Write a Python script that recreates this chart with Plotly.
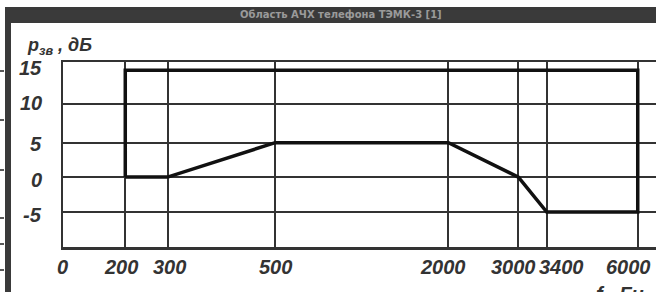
import numpy as np
import plotly.graph_objects as go

# ---------------- data ----------------
FREQ_TICKS = [0, 200, 300, 500, 2000, 3000, 3400, 6000]
FREQ_LABELS = ["0", "200", "300", "500", "2000", "3000", "3400", "6000"]
LEVEL_TICKS = [-10, -5, 0, 5, 10, 15]
LEVEL_LABELS = ["", "-5", "0", "5", "10", "15"]

# boundary of the allowed frequency-response region (closed contour)
region_freq = [200, 300, 500, 2000, 3000, 3400, 6000, 6000, 200, 200]
region_level = [0, 0, 5, 5, 0, -5, -5, 14, 14, 0]

TITLE = "Область АЧХ телефона ТЭМК-3 [1]"

# ---------------- hand-drawn (non-uniform) graph-paper scales ----------------
# fraction of the axis length at which each printed grid line sits
X_GRID_FRAC = [0.0, 0.105, 0.1763, 0.3578, 0.650, 0.768, 0.8158, 0.9692]
Y_GRID_FRAC = [0.0, 0.189, 0.378, 0.564, 0.775, 1.0]


def fx(f):
    return np.interp(f, FREQ_TICKS, X_GRID_FRAC)


def fy(p):
    return np.interp(p, LEVEL_TICKS, Y_GRID_FRAC)


W, H = 656, 292
ML, MR, MT, MB = 63, 0, 62, 45


def px_x(v):
    return (v - ML) / (W - ML - MR)


def px_y(v):
    return (H - MB - v) / (H - MT - MB)


fig = go.Figure()
fig.add_trace(go.Scatter(
    x=fx(region_freq), y=fy(region_level), mode="lines",
    line=dict(color="#111111", width=3.5), cliponaxis=False,
    hoverinfo="skip", showlegend=False))

GRID = "#333333"
fig.update_xaxes(range=[0, 1], tickvals=fx(FREQ_TICKS), showticklabels=False,
                 showgrid=True, gridcolor=GRID, gridwidth=2, zeroline=False,
                 showline=True, linecolor=GRID, linewidth=2.5, mirror=True,
                 ticks="", fixedrange=True)
fig.update_yaxes(range=[0, 1], tickvals=fy(LEVEL_TICKS), showticklabels=False,
                 showgrid=True, gridcolor=GRID, gridwidth=2, zeroline=False,
                 showline=True, linecolor=GRID, linewidth=2.5, mirror=False,
                 ticks="", fixedrange=True)

tick_font = dict(family="Liberation Sans, Arial, sans-serif", size=20,
                 color="#333333", style="italic", weight="bold")
ann = []
x_label_shift = [-1, -4, 2, 0, -5, -5, 15, -9]
for f, lab, dx in zip(FREQ_TICKS, FREQ_LABELS, x_label_shift):
    ann.append(dict(x=fx(f), y=0, xref="x", yref="paper", text=lab,
                    showarrow=False, xanchor="center", yanchor="middle",
                    xshift=dx, yshift=-20, font=tick_font))
y_label_shift = [0, -3, -3, -1, 1, -6]
for p, lab, dy in zip(LEVEL_TICKS, LEVEL_LABELS, y_label_shift):
    if lab:
        ann.append(dict(x=0, y=fy(p), xref="paper", yref="y", text=lab,
                        showarrow=False, xanchor="right", yanchor="middle",
                        xshift=-19, yshift=dy, font=tick_font))

# axis names
ann.append(dict(x=px_x(25), y=1, xref="paper", yref="paper",
                text="<i>p<sub>зв</sub> , дБ</i>", showarrow=False,
                xanchor="left", yanchor="bottom", yshift=2,
                font=dict(family="Liberation Sans, Arial, sans-serif", size=18,
                          color="#333333", weight="bold")))
ann.append(dict(x=px_x(594), y=0, xref="paper", yref="paper",
                text="<i>f , Гц</i>", showarrow=False, xanchor="left",
                yanchor="top", yshift=-34,
                font=dict(family="Liberation Sans, Arial, sans-serif", size=20,
                          color="#333333", weight="bold")))

# dark window title band
ann.append(dict(x=px_x(341), y=px_y(15), xref="paper", yref="paper", text=TITLE,
                showarrow=False, xanchor="center", yanchor="middle",
                font=dict(family="DejaVu Sans, sans-serif", size=10,
                          color="#9a9a9a", weight="bold")))

shapes = [
    dict(type="rect", xref="paper", yref="paper", x0=px_x(5), x1=px_x(W),
         y0=px_y(23), y1=px_y(7), fillcolor="#3a3a3a", line=dict(width=0),
         layer="below"),
    dict(type="rect", xref="paper", yref="paper", x0=px_x(5), x1=px_x(11),
         y0=px_y(H), y1=px_y(7), fillcolor="#3a3a3a", line=dict(width=0),
         layer="below"),
]
for yy in [71, 120, 170, 218, 244, 270]:
    shapes.append(dict(type="line", xref="paper", yref="paper",
                       x0=px_x(0), x1=px_x(4), y0=px_y(yy), y1=px_y(yy),
                       line=dict(color="#222222", width=1.5)))

fig.update_layout(
    width=W, height=H, margin=dict(l=ML, r=MR, t=MT, b=MB),
    paper_bgcolor="white", plot_bgcolor="white",
    annotations=ann, shapes=shapes, showlegend=False)

fig.write_html("out.html",
               config={"displayModeBar": False, "staticPlot": True},
               post_script="document.body.style.margin='0';"
                           "document.body.style.overflow='hidden';")
